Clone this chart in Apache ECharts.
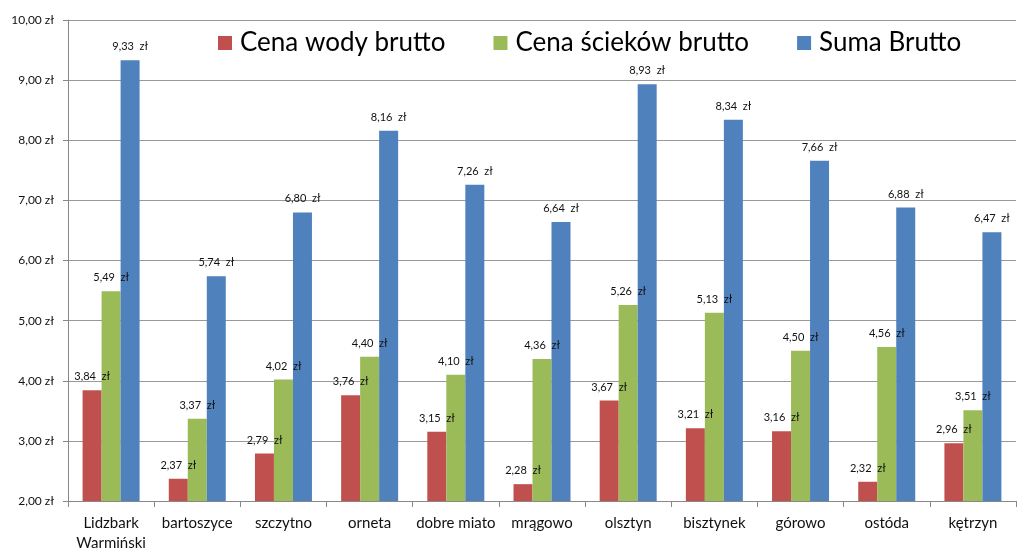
<!DOCTYPE html>
<html>
<head>
<meta charset="utf-8">
<script src="https://cdn.jsdelivr.net/npm/echarts@6/dist/echarts.min.js"></script>
<style>
  html, body { margin: 0; padding: 0; background: #fff; }
  #main { width: 1024px; height: 554px; }
</style>
</head>
<body>
<div id="main"></div>
<script>
var cities = ['Lidzbark\nWarmiński', 'bartoszyce', 'szczytno', 'orneta', 'dobre miato', 'mrągowo', 'olsztyn', 'bisztynek', 'górowo', 'ostóda', 'kętrzyn'];
var waterPrice = [3.84, 2.37, 2.79, 3.76, 3.15, 2.28, 3.67, 3.21, 3.16, 2.32, 2.96];
var sewagePrice = [5.49, 3.37, 4.02, 4.40, 4.10, 4.36, 5.26, 5.13, 4.50, 4.56, 3.51];
var totalPrice = [9.33, 5.74, 6.80, 8.16, 7.26, 6.64, 8.93, 8.34, 7.66, 6.88, 6.47];

function zl(v) {
    return v.toFixed(2).replace('.', ',') + '  zł';
}

var font = 'Lato, "Open Sans", sans-serif';

function barSeries(name, data, color) {
    return {
        name: name,
        type: 'bar',
        data: data,
        barWidth: 19,
        barGap: '0%',
        itemStyle: { color: color },
        label: {
            show: true,
            position: 'top',
            distance: 8,
            fontSize: 11,
            color: '#111',
            fontFamily: font,
            formatter: function (p) { return zl(p.value); }
        }
    };
}

var myChart = echarts.init(document.getElementById('main'));
var option = {
    animation: false,
    textStyle: { fontFamily: font },
    grid: { left: 68, right: 8, top: 20, bottom: 53 },
    legend: {
        left: 213,
        top: 25,
        itemWidth: 14,
        itemHeight: 14,
        itemGap: 48,
        icon: 'rect',
        textStyle: { fontSize: 26, color: '#000', fontFamily: font, padding: [0, 0, 0, 3] }
    },
    xAxis: {
        type: 'category',
        data: cities,
        axisLine: { lineStyle: { color: '#888' } },
        axisTick: { show: true, length: 6, lineStyle: { color: '#888' } },
        axisLabel: { fontSize: 15, color: '#111', margin: 12, lineHeight: 20, interval: 0 }
    },
    yAxis: {
        type: 'value',
        min: 2,
        max: 10,
        interval: 1,
        axisLine: { show: true, lineStyle: { color: '#888' } },
        axisTick: { show: true, inside: false, length: 5, lineStyle: { color: '#888' } },
        splitLine: { lineStyle: { color: '#999' } },
        axisLabel: {
            fontSize: 12,
            color: '#111',
            margin: 14,
            formatter: function (v) { return v.toFixed(2).replace('.', ',') + ' zł'; }
        }
    },
    series: [
        barSeries('Cena wody brutto', waterPrice, '#C0504D'),
        barSeries('Cena ścieków brutto', sewagePrice, '#9BBB59'),
        barSeries('Suma Brutto', totalPrice, '#4F81BD')
    ]
};
myChart.setOption(option);
</script>
</body>
</html>
